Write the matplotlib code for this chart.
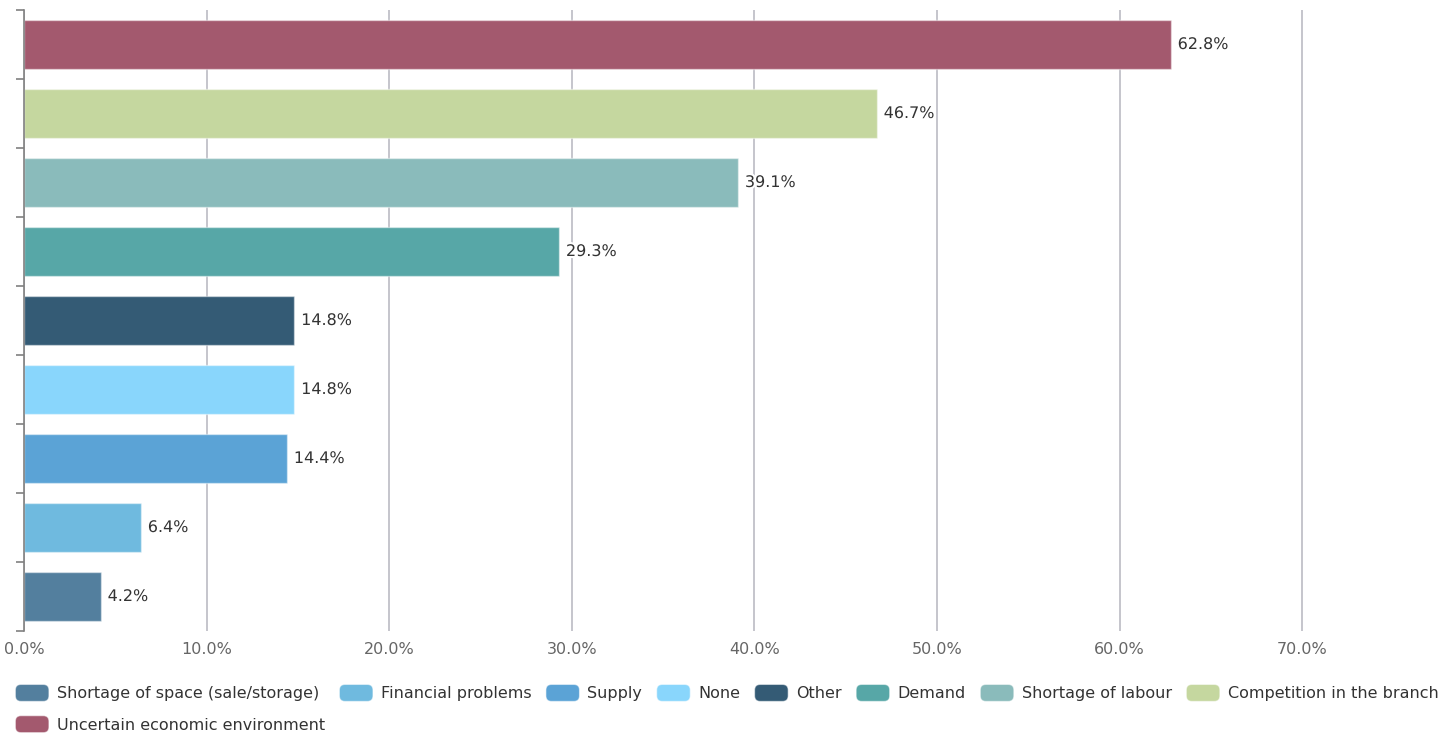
import numpy as np
import matplotlib.pyplot as plt
import matplotlib.patheffects as pe
from matplotlib.patches import Patch, FancyBboxPatch
from matplotlib.legend_handler import HandlerPatch

# categories from bottom bar to top bar
categories = ['Shortage of space (sale/storage)', 'Financial problems', 'Supply', 'None',
              'Other', 'Demand', 'Shortage of labour', 'Competition in the branch',
              'Uncertain economic environment']
values = [4.2, 6.4, 14.4, 14.8, 14.8, 29.3, 39.1, 46.7, 62.8]
colors = ['#537f9e', '#6fbadf', '#5ba3d6', '#89d6fc', '#345b75',
          '#57a7a7', '#8abbbb', '#c5d79f', '#a3596e']
xticks = [0, 10, 20, 30, 40, 50, 60, 70]


class RoundHandler(HandlerPatch):
    #rounded legend swatches
    def create_artists(self, legend, orig_handle, xdescent, ydescent,
                       width, height, fontsize, trans):
        p = FancyBboxPatch((-xdescent, -ydescent), width, height,
                           boxstyle='round,pad=0,rounding_size=4',
                           facecolor=orig_handle.get_facecolor(),
                           edgecolor=(1, 1, 1, 0.5), linewidth=0.8,
                           transform=trans)
        return [p]


fig = plt.figure(figsize=(14.51, 7.37), dpi=100)
ax = fig.add_axes([24/1451, 106/737, (1440-24)/1451, 621/737])

y = np.arange(len(categories))
ax.barh(y, values, height=0.7, color=colors, edgecolor=(1, 1, 1, 0.45),
        linewidth=1, zorder=3)

for yi, v in zip(y, values):
    ax.annotate('%.1f%%' % v, (v, yi), xytext=(5, 0), textcoords='offset points',
                va='center', ha='left', fontsize=11.5, color='#333333', zorder=4,
                path_effects=[pe.withStroke(linewidth=3, foreground='white')])

ax.set_xlim(0, (1440-24)/18.26)
ax.set_ylim(-0.5, len(categories) - 0.5)
ax.set_xticks(xticks)
ax.set_xticklabels(['%.1f%%' % t for t in xticks], fontsize=11.5, color='#666666')
ax.tick_params(axis='x', length=0, pad=8)
ax.set_yticks(np.arange(len(categories) + 1) - 0.5)
ax.set_yticklabels([])
ax.tick_params(axis='y', length=6, color='#808080', width=1.2)
ax.grid(axis='x', color='#c0c0c8', linewidth=1.3, zorder=0)
for s in ['top', 'right', 'bottom']:
    ax.spines[s].set_visible(False)
ax.spines['left'].set_color('#808080')
ax.spines['left'].set_linewidth(1.2)
ax.spines['left'].set_zorder(5)

# legend: reorder so the 9th item wraps under the first one
order = [0, 8, 1, 2, 3, 4, 5, 6, 7]
handles = [Patch(facecolor=colors[i], label=categories[i]) for i in order]
fig.legend(handles=handles, loc='lower left', bbox_to_anchor=(1/1451, -10/737),
           ncol=8, frameon=False, fontsize=11.5, labelcolor='#333333',
           handlelength=2.1, handleheight=1.25, handletextpad=0.5,
           columnspacing=0.9, labelspacing=0.9,
           handler_map={Patch: RoundHandler()})

fig.savefig('out.png', dpi=100)
